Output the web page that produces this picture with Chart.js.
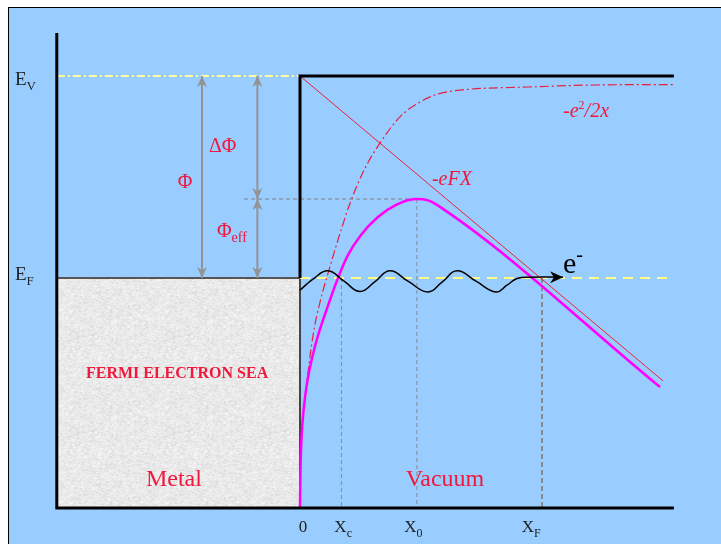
<!DOCTYPE html>
<html><head><meta charset="utf-8">
<script src="https://cdn.jsdelivr.net/npm/chart.js"></script>
<style>
html,body{margin:0;padding:0;background:#fff;}
#wrap{position:relative;width:721px;height:544px;overflow:hidden;}
#panel{position:absolute;left:8px;top:7px;right:0;bottom:0;background:#99ccff;border-left:1px solid #000;border-top:1px solid #000;}
canvas{position:absolute;left:0;top:0;}
</style></head><body>
<div id="wrap"><div id="panel"></div><canvas id="c" width="721" height="544"></canvas></div>
<script>
// ---- key levels / positions (x: distance units, E: energy in eV, vacuum level = 0) ----
const X_LEFT = -10.05, X_RIGHT = 15.45;
const E_TOP = 0.96, E_BOTTOM = -9.62;
const EV = 0, EF = -4.5, E_PEAK = -2.74;
const XC = 1.71, X0 = 4.83, XF = 10.0;
const GUIDE_START = -2.31;
const ARROW_PHI = -4.05, ARROW_DPHI = -1.76;

// ---- tick labels under the axis ----
const tickPos  = [0, XC, X0, XF];
const tickMain = ['0', 'X', 'X', 'X'];
const tickSub  = ['', 'c', '0', 'F'];

// ---- curves ----
const fieldX = [0, 15.0];
const fieldE = [0, -6.79];

const imageX = [0.0, 0.07, 0.28, 0.54, 0.83, 1.16, 1.57, 2.07, 2.69, 3.31, 4.13, 4.96, 5.70, 6.69, 9.42, 12.19, 15.50];
const imageE = [-8.55, -7.95, -6.84, -5.77, -5.03, -4.39, -3.65, -2.83, -2.05, -1.49, -0.91, -0.58, -0.40, -0.31, -0.245, -0.20, -0.19];

const barrierX = [0.0, 0.02, 0.07, 0.17, 0.29, 0.50, 0.74, 1.07, 1.57, 1.98, 2.52, 3.22, 3.93, 4.79, 5.29, 5.66, 14.88];
const barrierE = [-9.62, -8.78, -7.99, -7.33, -6.84, -6.28, -5.79, -5.25, -4.50, -3.99, -3.54, -3.14, -2.88, -2.74, -2.77, -2.87, -6.93];

const waveX = [0, 0.55, 1.16, 1.82, 2.48, 3.10, 3.72, 4.46, 5.29, 5.87, 6.49, 7.27, 8.10, 8.55, 8.97, 9.50, 10.87];
const waveE = [-4.77, -4.52, -4.34, -4.57, -4.80, -4.58, -4.34, -4.57, -4.81, -4.59, -4.34, -4.57, -4.81, -4.66, -4.51, -4.48, -4.48];

// ---- helpers ----
const zip = (xs, ys) => xs.map((x, i) => ({x, y: ys[i]}));
const pts = (...a) => a.map(p => ({x: p[0], y: p[1]}));
const SERIF = '"Liberation Serif", "Times New Roman", serif';
const RED = '#f0183c';
const GRAY = '#939393';

// deterministic granite-like texture for the metal block
function graniteTexture() {
  const n = 96, off = document.createElement('canvas');
  off.width = n; off.height = n;
  const g = off.getContext('2d'), img = g.createImageData(n, n);
  const h = (x, y) => {
    let v = (Math.imul(x, 374761393) + Math.imul(y, 668265263)) | 0;
    v = Math.imul(v ^ (v >>> 13), 1274126177);
    return ((v ^ (v >>> 16)) >>> 0) / 4294967296;
  };
  for (let y = 0; y < n; y++) for (let x = 0; x < n; x++) {
    const a = (h(x, y) + h((x + 1) % n, y) + h(x, (y + 1) % n) + h((x + n - 1) % n, y)) / 4;
    const c = Math.round(233 + (a - 0.5) * 34 + (h(x * 7, y * 3) - 0.5) * 10);
    const i = (y * n + x) * 4;
    img.data[i] = c; img.data[i + 1] = c; img.data[i + 2] = c; img.data[i + 3] = 255;
  }
  g.putImageData(img, 0, 0);
  return g.createPattern(off, 'repeat');
}

function line(data, color, width, extra) {
  return Object.assign({data, borderColor: color, borderWidth: width, pointRadius: 0, fill: false, tension: 0}, extra || {});
}

const layers = [
  line(pts([X_LEFT, EF], [0, EF]), '#555555', 2, {fill: {value: E_BOTTOM}, backgroundColor: graniteTexture()}),
  line(pts([0, EF], [0, E_BOTTOM]), '#444444', 2),
  line(pts([X_LEFT, EV], [0, EV]), '#ffff99', 2, {borderDash: [8, 3, 2, 3]}),
  line(pts([0, EF], [X_RIGHT, EF]), '#ffff88', 2, {borderDash: [10, 7]}),
  line(pts([XC, EF], [XC, E_BOTTOM]), '#8a8a8a', 1, {borderDash: [4, 3]}),
  line(pts([X0, E_PEAK], [X0, E_BOTTOM]), '#8a8a8a', 1, {borderDash: [4, 3]}),
  line(pts([GUIDE_START, E_PEAK], [X0, E_PEAK]), '#808080', 1, {borderDash: [4, 3]}),
  line(pts([XF, EF], [XF, E_BOTTOM]), '#8a8a8a', 2, {borderDash: [5, 3]}),
  line(pts([ARROW_PHI, EV], [ARROW_PHI, EF]), GRAY, 2, {arrow: {start: true, end: true, len: 11, half: 5, color: GRAY}}),
  line(pts([ARROW_DPHI, EV], [ARROW_DPHI, E_PEAK]), GRAY, 2, {arrow: {start: true, end: true, len: 11, half: 5, color: GRAY}}),
  line(pts([ARROW_DPHI, E_PEAK], [ARROW_DPHI, EF]), GRAY, 2, {arrow: {start: true, end: true, len: 11, half: 5, color: GRAY}}),
  line(zip(fieldX, fieldE), '#ee2035', 1),
  line(zip(imageX, imageE), '#e8203f', 1.2, {borderDash: [9, 3, 2, 3], cubicInterpolationMode: 'monotone'}),
  line(zip(barrierX, barrierE), '#ff00ff', 2.5, {cubicInterpolationMode: 'monotone'}),
  line(zip(waveX, waveE), '#000000', 1.5, {tension: 0.45, arrow: {start: false, end: true, len: 13, half: 6, color: '#000'}}),
  line(pts([X_LEFT, E_TOP], [X_LEFT, E_BOTTOM], [X_RIGHT, E_BOTTOM]), '#000000', 3),
  line(pts([0, EF], [0, EV], [X_RIGHT, EV]), '#000000', 3),
];
layers.forEach((d, i) => { d.order = layers.length - i; });

// ---- text annotations (data coordinates) ----
const labels = [
  {x: -11.78, y: -0.20, color: '#222', parts: [{t: 'E', size: 19}, {t: 'V', size: 13, dy: 5}]},
  {x: -11.78, y: -4.54, color: '#222', parts: [{t: 'E', size: 19}, {t: 'F', size: 13, dy: 5}]},
  {x: -4.75, y: -2.49, color: RED, align: 'center', parts: [{t: 'Φ', size: 20}]},
  {x: -3.76, y: -1.69, color: RED, parts: [{t: 'ΔΦ', size: 20}]},
  {x: -3.43, y: -3.59, color: RED, parts: [{t: 'Φ', size: 20}, {t: 'eff', size: 14, dy: 5}]},
  {x: 5.45, y: -2.43, color: RED, parts: [{t: '-eFX', size: 20, style: 'italic'}]},
  {x: 10.87, y: -0.91, color: RED, parts: [{t: '-e', size: 20, style: 'italic'}, {t: '2', size: 12, dy: -8}, {t: '/2x', size: 20, style: 'italic'}]},
  {x: -5.08, y: -6.73, color: RED, align: 'center', parts: [{t: 'FERMI ELECTRON SEA', size: 16, weight: 'bold'}]},
  {x: -5.21, y: -9.13, color: RED, align: 'center', parts: [{t: 'Metal', size: 24}]},
  {x: 5.99, y: -9.13, color: RED, align: 'center', parts: [{t: 'Vacuum', size: 24}]},
  {x: 10.87, y: -4.39, color: '#000', parts: [{t: 'e', size: 30}, {t: '-', size: 20, dy: -12}]},
];
const TICK_E = -10.16;
const tickOffset = [0.12, -0.29, -0.52, -0.84];
tickPos.forEach((p, i) => {
  const parts = [{t: tickMain[i], size: 17}];
  if (tickSub[i]) parts.push({t: tickSub[i], size: 12, dy: 5});
  labels.push({x: p + tickOffset[i], y: TICK_E, color: '#222', align: i === 0 ? 'center' : 'left', parts});
});

const arrowPlugin = {
  id: 'arrowHeads',
  afterDatasetsDraw(chart) {
    const ctx = chart.ctx;
    chart.data.datasets.forEach((ds, i) => {
      if (!ds.arrow) return;
      const el = chart.getDatasetMeta(i).data;
      const head = (tip, from) => {
        const dx = tip.x - from.x, dy = tip.y - from.y, L = Math.hypot(dx, dy) || 1;
        const ux = dx / L, uy = dy / L, len = ds.arrow.len, hw = ds.arrow.half;
        const bx = tip.x - ux * len, by = tip.y - uy * len;
        const nx = tip.x - ux * len * 0.7, ny = tip.y - uy * len * 0.7;
        ctx.beginPath();
        ctx.moveTo(tip.x, tip.y);
        ctx.lineTo(bx - uy * hw, by + ux * hw);
        ctx.lineTo(nx, ny);
        ctx.lineTo(bx + uy * hw, by - ux * hw);
        ctx.closePath();
        ctx.fill();
      };
      ctx.save();
      ctx.fillStyle = ds.arrow.color;
      if (ds.arrow.end) head(el[el.length - 1], el[el.length - 2]);
      if (ds.arrow.start) head(el[0], el[1]);
      ctx.restore();
    });
  }
};

const textPlugin = {
  id: 'richText',
  afterDatasetsDraw(chart) {
    const ctx = chart.ctx, xs = chart.scales.x, ys = chart.scales.y;
    labels.forEach(l => {
      const px = xs.getPixelForValue(l.x), py = ys.getPixelForValue(l.y);
      ctx.save();
      ctx.fillStyle = l.color;
      ctx.textBaseline = 'alphabetic';
      ctx.textAlign = 'left';
      const fonts = l.parts.map(p => `${p.style || 'normal'} ${p.weight || 'normal'} ${p.size}px ${SERIF}`);
      const widths = l.parts.map((p, k) => { ctx.font = fonts[k]; return ctx.measureText(p.t).width; });
      const total = widths.reduce((a, b) => a + b, 0);
      let x = l.align === 'center' ? px - total / 2 : px;
      l.parts.forEach((p, k) => { ctx.font = fonts[k]; ctx.fillText(p.t, x, py + (p.dy || 0)); x += widths[k]; });
      ctx.restore();
    });
  }
};

new Chart(document.getElementById('c'), {
  type: 'line',
  data: {datasets: layers},
  options: {
    responsive: false, maintainAspectRatio: false, animation: false, devicePixelRatio: 1,
    layout: {padding: 0},
    plugins: {legend: {display: false}, tooltip: {enabled: false}},
    scales: {
      x: {type: 'linear', display: false, min: -12.3967, max: 17.3967},
      y: {type: 'linear', display: false, min: -10.4232, max: 1.69265}
    }
  },
  plugins: [arrowPlugin, textPlugin]
});
</script>
</body></html>
